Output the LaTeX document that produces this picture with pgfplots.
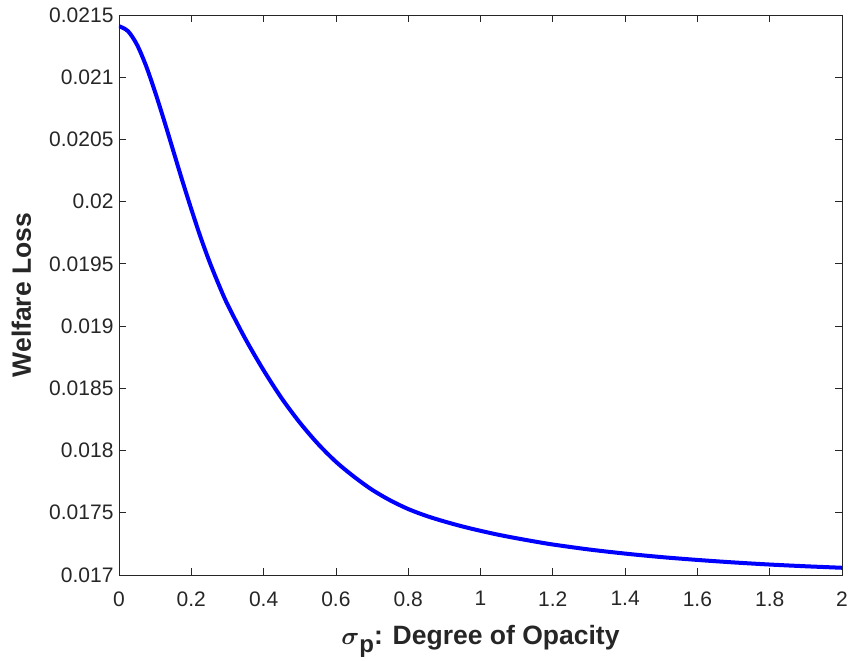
\documentclass[border=0pt]{standalone}
\usepackage{fontspec}
\setmainfont{Liberation Sans}
\usepackage{pgfplots}
\pgfplotsset{compat=1.18}
\definecolor{axgray}{rgb}{0.15,0.15,0.15}
\begin{document}
\begin{tikzpicture}
\begin{axis}[
  width=723pt, height=560pt, scale only axis,
  xmin=0, xmax=2, ymin=0.017, ymax=0.0215,
  xtick={0,0.2,0.4,0.6,0.8,1,1.2,1.4,1.6,1.8,2},
  xticklabels={0,0.2,0.4,0.6,0.8,1,1.2,1.4,1.6,1.8,2},
  ytick={0.017,0.0175,0.018,0.0185,0.019,0.0195,0.02,0.0205,0.021,0.0215},
  yticklabels={0.017,0.0175,0.018,0.0185,0.019,0.0195,0.02,0.0205,0.021,0.0215},
  scaled y ticks=false, scaled x ticks=false,
  tick align=inside, tick pos=both,
  major tick length=7pt,
  axis line style={axgray, line width=0.8pt},
  every tick/.style={axgray, line width=0.8pt},
  tick label style={font=\fontsize{21}{25}\selectfont, text=axgray},
  /pgf/number format/assume math mode=true,
  xticklabel style={yshift=-13pt},
  yticklabel style={xshift=-2pt},
  xlabel={{\fontsize{29}{32}\selectfont\boldmath$\sigma$}\raisebox{-0.3em}{\fontsize{24}{27}\selectfont\bfseries p}: Degree of Opacity},
  ylabel={Welfare Loss},
  every axis x label/.style={at={(axis description cs:0.5,0)}, anchor=base, yshift=-70pt, font=\fontsize{26.5}{30}\selectfont\bfseries, text=axgray},
  every axis y label/.style={at={(axis description cs:0,0.5)}, xshift=-88pt, anchor=base, rotate=90, font=\fontsize{26.5}{30}\selectfont\bfseries, text=axgray},
]
\addplot[blue, line width=4pt, smooth] coordinates {
(0,0.021410) (0.025,0.021370) (0.05,0.021260) (0.075,0.021090) (0.1,0.020880)
(0.125,0.020650) (0.15,0.020410) (0.175,0.020170) (0.2,0.019940) (0.225,0.019720)
(0.25,0.019520) (0.275,0.019340) (0.3,0.019175) (0.35,0.018895) (0.4,0.018645)
(0.45,0.018420) (0.5,0.018225) (0.55,0.018055) (0.6,0.017910) (0.65,0.017790)
(0.7,0.017685) (0.75,0.017600) (0.8,0.017530) (0.85,0.017475) (0.9,0.017430)
(0.95,0.017390) (1.0,0.017355) (1.05,0.017323) (1.1,0.017295) (1.15,0.017269)
(1.2,0.017245) (1.3,0.017205) (1.4,0.017172) (1.5,0.017144)
(1.6,0.017121) (1.7,0.017101) (1.8,0.017084) (1.9,0.017070) (2.0,0.017058)
};
\coordinate (sw) at (rel axis cs:0,0);
\coordinate (ne) at (rel axis cs:1,1);
\end{axis}
\pgfresetboundingbox
\path ([xshift=-119pt,yshift=-86pt]sw) rectangle ([xshift=9pt,yshift=15pt]ne);
\end{tikzpicture}
\end{document}
